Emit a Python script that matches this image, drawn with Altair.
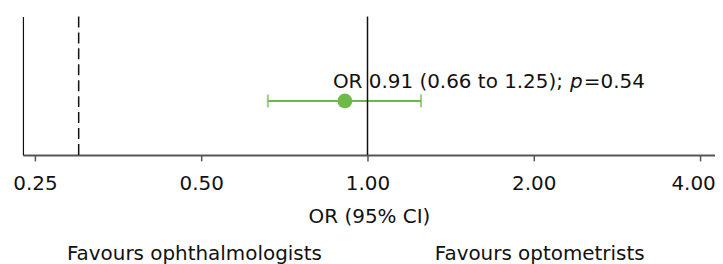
import altair as alt
import pandas as pd

# data
or_value = [0.91]
ci_low = [0.66]
ci_high = [1.25]
row_y = [0.39]
label_main = ["OR 0.91 (0.66 to 1.25);"]
label_p = ["p"]
label_pval = ["=0.54"]
ref_lines = [1.0]
dashed_lines = [0.3]
tick_values = [0.25, 0.5, 1.0, 2.0, 4.0]
favour_labels = ["Favours ophthalmologists", "Favours optometrists"]
favour_x = [0.486, 2.05]

FONT = "DejaVu Sans"
FS = 20
GREEN = "#6cbb4a"

df = pd.DataFrame({"or": or_value, "lo": ci_low, "hi": ci_high, "y": row_y,
                   "t1": label_main, "t2": label_p, "t3": label_pval})
ref_df = pd.DataFrame({"x": ref_lines})
dash_df = pd.DataFrame({"x": dashed_lines})
fav_df = pd.DataFrame({"x": favour_x, "label": favour_labels})

xscale = alt.Scale(type="log", base=2, domain=[0.2378, 4.257], nice=False, zero=False)
yscale = alt.Scale(domain=[0, 1])

xaxis = alt.Axis(values=tick_values, format=".2f", title="OR (95% CI)", grid=False,
                 domainColor="#555555", domainWidth=2, tickColor="#555555", tickWidth=1.5,
                 tickSize=6, labelFont=FONT, labelFontSize=FS, labelColor="#111111",
                 labelPadding=13, titleFont=FONT, titleFontSize=FS, titleFontWeight="normal",
                 titleColor="#111111", titlePadding=13, labelFlush=False,
                 labelOffset={"condition": {"test": "datum.value >= 4", "value": -7}, "value": 0})
yaxis = alt.Axis(title=None, labels=False, ticks=False, grid=False, domainColor="#111111",
                 domainWidth=1.2)

base = alt.Chart(df)

ci = base.mark_rule(color=GREEN, strokeWidth=2).encode(
    x=alt.X("lo:Q", scale=xscale, axis=xaxis),
    x2="hi:Q",
    y=alt.Y("y:Q", scale=yscale, axis=yaxis),
)
cap_lo = base.mark_tick(color=GREEN, thickness=2, size=13, orient="vertical").encode(
    x=alt.X("lo:Q", scale=xscale), y=alt.Y("y:Q", scale=yscale))
cap_hi = base.mark_tick(color=GREEN, thickness=2, size=13, orient="vertical").encode(
    x=alt.X("hi:Q", scale=xscale), y=alt.Y("y:Q", scale=yscale))
pt = base.mark_point(filled=True, color=GREEN, size=220, opacity=1, shape="circle").encode(
    x=alt.X("or:Q", scale=xscale), y=alt.Y("y:Q", scale=yscale))

ref = alt.Chart(ref_df).mark_rule(color="#111111", strokeWidth=1.5).encode(
    x=alt.X("x:Q", scale=xscale))
dash = alt.Chart(dash_df).mark_rule(color="#111111", strokeWidth=1.5, strokeDash=[11, 5]).encode(
    x=alt.X("x:Q", scale=xscale))

t1 = base.mark_text(align="left", baseline="alphabetic", dx=-12, dy=-13, font=FONT,
                    fontSize=FS, color="#111111").encode(
    x=alt.X("or:Q", scale=xscale), y=alt.Y("y:Q", scale=yscale), text="t1:N")
t2 = base.mark_text(align="left", baseline="alphabetic", dx=226, dy=-13, font=FONT,
                    fontSize=FS, fontStyle="italic", color="#111111").encode(
    x=alt.X("or:Q", scale=xscale), y=alt.Y("y:Q", scale=yscale), text="t2:N")
t3 = base.mark_text(align="left", baseline="alphabetic", dx=240, dy=-13, font=FONT,
                    fontSize=FS, color="#111111").encode(
    x=alt.X("or:Q", scale=xscale), y=alt.Y("y:Q", scale=yscale), text="t3:N")

fav = alt.Chart(fav_df).mark_text(align="center", baseline="alphabetic", font=FONT, fontSize=FS,
                                   color="#111111").encode(
    x=alt.X("x:Q", scale=xscale), y=alt.value(245), text="label:N")

chart = alt.layer(ci, cap_lo, cap_hi, ref, dash, pt, t1, t2, t3, fav).properties(
    width=695, height=139,
    background="white",
    autosize=alt.AutoSizeParams(type="none"),
    padding={"left": 15, "top": 8, "right": 0, "bottom": 109},
).configure_view(strokeOpacity=0, strokeWidth=0).configure_axis(grid=False)

chart.save("out.html", embed_options={"renderer": "svg", "actions": False})
